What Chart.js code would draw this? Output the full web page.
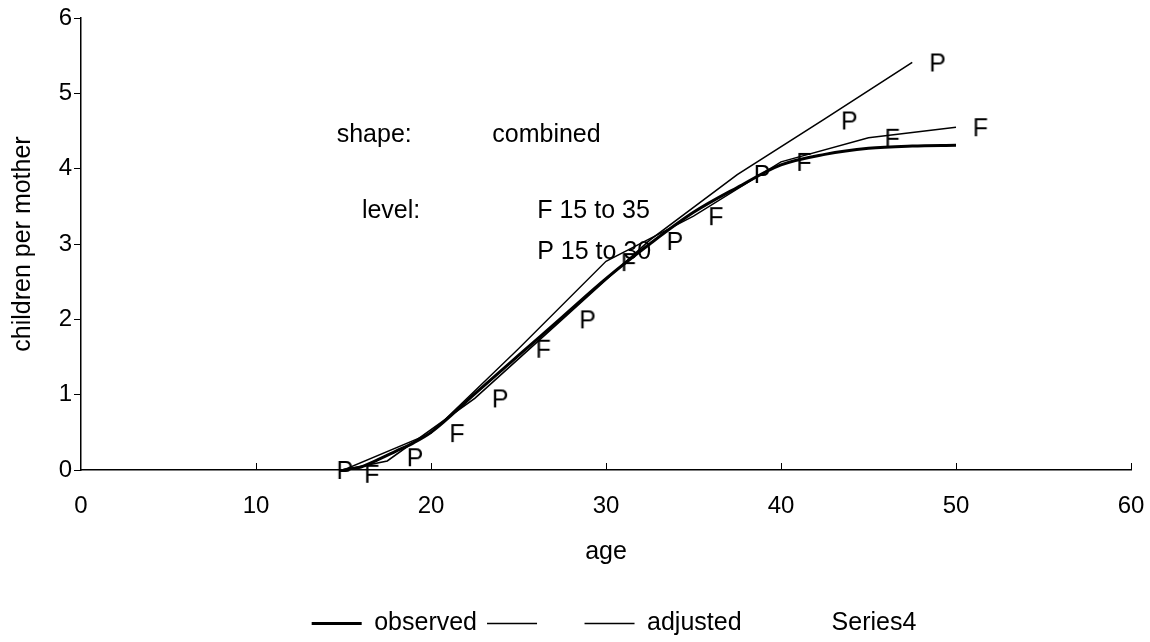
<!DOCTYPE html>
<html><head><meta charset="utf-8">
<script src="https://cdn.jsdelivr.net/npm/chart.js@4.4.1/dist/chart.umd.min.js"></script>
<style>html,body{margin:0;padding:0;background:#fff;} #wrap{width:1150px;height:642px;position:relative;}</style>
</head><body><div id="wrap"><canvas id="c" width="1150" height="642" style="width:1150px;height:642px"></canvas></div>
<script>
// ---- data ----
const fittedAges   = [15,16,17,18,19,20,22.5,25,27.5,30,32.5,35,37.5,40,42.5,45,47.5,50];
const fittedValues = [0,0.04,0.14,0.25,0.36,0.5,1.01,1.52,2.03,2.54,3.0,3.42,3.75,4.05,4.19,4.27,4.30,4.31];
const pLineAges    = [15,17.5,22.5,27.5,32.5,37.5,42.5,47.5];
const pLineValues  = [0,0.12,0.95,2.0,3.05,3.92,4.66,5.41];
const fLineAges    = [15,20,25,30,35,40,45,50];
const fLineValues  = [0,0.49,1.61,2.77,3.37,4.09,4.41,4.55];
const pLabelAges   = [15.07,19.08,23.95,28.94,33.93,38.91,43.90,48.94];
const pLabelValues = [0.00,0.17,0.95,2.00,3.04,3.93,4.64,5.41];
const fLabelAges   = [16.62,21.49,26.42,31.29,36.28,41.32,46.36,51.40];
const fLabelValues = [-0.05,0.49,1.61,2.76,3.37,4.09,4.41,4.55];
const xTicks = [0,10,20,30,40,50,60];
const yTicks = [0,1,2,3,4,5,6];
const legendNames = ['observed','\u2002\u2002','adjusted\u2002\u2009','Series4'];
const noteTexts = ['shape:','combined','level:','F 15 to 35','P 15 to 30'];
const noteAges  = [14.61,23.50,16.05,26.07,26.07];
const noteVals  = [4.44,4.44,3.43,3.43,2.89];

const FONT = '"Liberation Sans", Arial, Helvetica, sans-serif';
const pairs = (xs, ys) => xs.map((v,i)=>({x:v, y:ys[i]}));

function letterCanvas(ch){
  const c = document.createElement('canvas');
  c.width = 30; c.height = 30;
  const g = c.getContext('2d');
  g.fillStyle = '#000';
  g.font = '25px ' + FONT;
  g.textAlign = 'center';
  g.textBaseline = 'alphabetic';
  g.fillText(ch, 15, 15 + 0.716*25/2);
  return c;
}
const pMark = letterCanvas('P');
const fMark = letterCanvas('F');

const annot = {
  id: 'annot',
  afterLayout(chart){
    if (chart.legend) { chart.legend.left += 8; chart.legend.right += 8; }
  },
  afterDatasetsDraw(chart){
    const {ctx, scales:{x, y}} = chart;
    ctx.save();
    ctx.fillStyle = '#000';
    ctx.font = '25px ' + FONT;
    ctx.textBaseline = 'middle';
    ctx.textAlign = 'left';
    noteTexts.forEach((t,i)=>ctx.fillText(t, x.getPixelForValue(noteAges[i]), y.getPixelForValue(noteVals[i])));
    ctx.strokeStyle = '#000';
    ctx.lineWidth = 1;
    xTicks.slice(1).forEach(v=>{
      const px = Math.round(x.getPixelForValue(v)) + 0.5;
      ctx.beginPath(); ctx.moveTo(px, y.bottom); ctx.lineTo(px, y.bottom - 7); ctx.stroke();
    });
    ctx.restore();
  }
};

const lineWidths = [3, 1.6, 1.4, 0];

new Chart(document.getElementById('c'), {
  type: 'scatter',
  data: {
    datasets: [
      {label: legendNames[0], data: pairs(fittedAges, fittedValues), showLine: true, borderColor:'#000', backgroundColor:'#000', borderWidth: 3, pointRadius: 0, cubicInterpolationMode:'monotone', tension: 0.4},
      {label: legendNames[1], data: pairs(pLineAges, pLineValues), showLine: true, borderColor:'#000', backgroundColor:'#000', borderWidth: 1.6, pointRadius: 0, tension: 0},
      {label: legendNames[2], data: pairs(fLineAges, fLineValues), showLine: true, borderColor:'#000', backgroundColor:'#000', borderWidth: 1.4, pointRadius: 0, tension: 0},
      {label: legendNames[3], data: [], showLine: false, borderColor:'rgba(0,0,0,0)', pointRadius: 0},
      {label: 'P', data: pairs(pLabelAges, pLabelValues), showLine: false, pointStyle: pMark, pointRadius: 6, clip: false},
      {label: 'F', data: pairs(fLabelAges, fLabelValues), showLine: false, pointStyle: fMark, pointRadius: 6, clip: false}
    ]
  },
  options: {
    responsive: false,
    animation: false,
    devicePixelRatio: 1,
    layout: {padding: {top: 18, right: 19, left: 0, bottom: -4}},
    plugins: {
      tooltip: {enabled: false},
      legend: {
        position: 'bottom',
        fullSize: false,
        labels: {
          color: '#000',
          font: {family: FONT, size: 25},
          usePointStyle: true,
          pointStyleWidth: 50,
          padding: 10,
          generateLabels: () => legendNames.map((n,i)=>({
            text: n, fillStyle: 'rgba(0,0,0,0)',
            strokeStyle: i === 3 ? 'rgba(0,0,0,0)' : '#000',
            lineWidth: lineWidths[i] || 0.01, pointStyle: 'line', hidden: false,
            datasetIndex: i, fontColor: '#000'
          }))
        }
      }
    },
    scales: {
      x: {
        type: 'linear', min: 0, max: 60,
        afterBuildTicks: s => { s.ticks = xTicks.map(v=>({value:v})); },
        afterFit: s => { s.height = 131; },
        grid: {drawOnChartArea: false, drawTicks: true, tickLength: 20, tickColor: 'rgba(0,0,0,0)'},
        border: {display: true, color: '#000', width: 1.5},
        ticks: {color: '#000', font: {family: FONT, size: 24}, padding: 2, maxRotation: 0},
        title: {display: true, text: 'age', color: '#000', font: {family: FONT, size: 25}, padding: {top: 0, bottom: 34}}
      },
      y: {
        type: 'linear', min: 0, max: 6,
        afterBuildTicks: s => { s.ticks = yTicks.map(v=>({value:v})); },
        afterFit: s => { s.width = 81; },
        grid: {drawOnChartArea: false, drawTicks: true, tickLength: 7, color: '#000'},
        border: {display: true, color: '#000', width: 1.5},
        ticks: {color: '#000', font: {family: FONT, size: 24}, padding: 2},
        title: {display: true, text: 'children per mother', color: '#000', font: {family: FONT, size: 25}, padding: {top: 8, bottom: 8}}
      }
    }
  },
  plugins: [annot]
});
</script></body></html>
